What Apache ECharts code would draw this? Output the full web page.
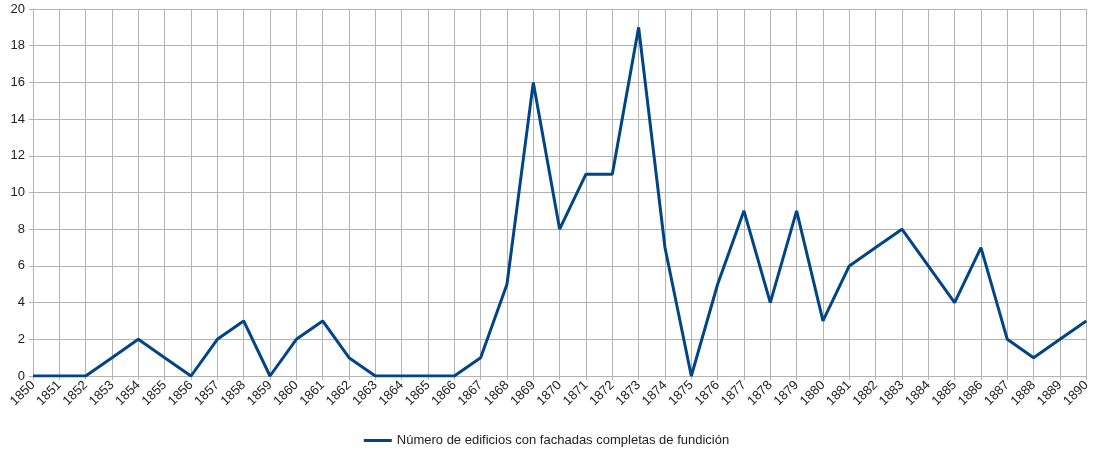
<!DOCTYPE html>
<html>
<head>
<meta charset="utf-8">
<script src="https://cdn.jsdelivr.net/npm/echarts@6/dist/echarts.min.js"></script>
<style>
  html, body { margin: 0; padding: 0; background: #fff; }
  #chart { width: 1093px; height: 452px; }
</style>
</head>
<body>
<div id="chart"></div>
<script>
// Years on the x axis
const years = []
for (let y = 1850; y <= 1890; y++) years.push(String(y))

// Number of buildings with complete cast-iron facades
const seriesName = 'Número de edificios con fachadas completas de fundición'
const buildings = [
  0, 0, 0, 1, 2, 1, 0, 2, 3, 0,
  2, 3, 1, 0, 0, 0, 0, 1, 5, 16,
  8, 11, 11, 19, 7, 0, 5, 9, 4, 9,
  3, 6, 7, 8, 6, 4, 7, 2, 1, 2,
  3
]

const chart = echarts.init(document.getElementById('chart'))

chart.setOption({
  animation: false,
  textStyle: { fontFamily: 'Liberation Sans, Arial, sans-serif' },
  grid: { left: 33, right: 3, top: 9, bottom: 76 },
  legend: {
    bottom: 0,
    left: 'center',
    icon: 'rect',
    itemWidth: 28,
    itemHeight: 3,
    itemGap: 10,
    textStyle: { fontSize: 13, color: '#222' },
    data: [seriesName]
  },
  xAxis: {
    type: 'category',
    boundaryGap: false,
    data: years,
    axisLine: { lineStyle: { color: '#b3b3b3', width: 1 } },
    axisTick: { show: true, length: 4, lineStyle: { color: '#b3b3b3' } },
    axisLabel: { rotate: 45, fontSize: 13, color: '#222', margin: 7, interval: 0 },
    splitLine: { show: true, lineStyle: { color: '#b3b3b3', width: 1 } }
  },
  yAxis: {
    type: 'value',
    min: 0,
    max: 20,
    interval: 2,
    axisLine: { show: true, lineStyle: { color: '#b3b3b3' } },
    axisTick: { show: true, length: 4, lineStyle: { color: '#b3b3b3' } },
    axisLabel: { fontSize: 13, color: '#222', margin: 8 },
    splitLine: { show: true, lineStyle: { color: '#b3b3b3', width: 1 } }
  },
  series: [
    {
      name: seriesName,
      type: 'line',
      data: buildings,
      symbol: 'none',
      lineStyle: { color: '#004586', width: 3 },
      itemStyle: { color: '#004586' }
    }
  ]
})
</script>
</body>
</html>
